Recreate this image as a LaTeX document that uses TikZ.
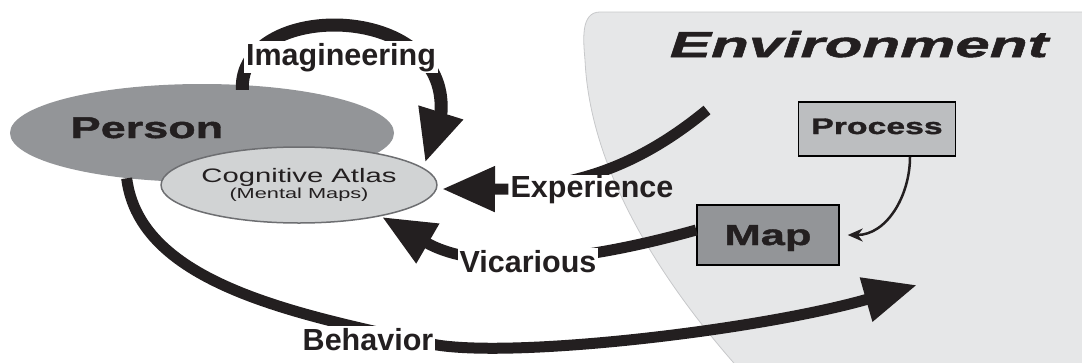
\documentclass[tikz,border=0pt]{standalone}
\usepackage{fontspec}
\setmainfont{Liberation Sans}
\newfontfamily\widefont[FakeStretch=1.5,BoldFeatures={FakeBold=1.5}]{Liberation Sans}
\newfontfamily\envfont[FakeStretch=1.72,BoldItalicFeatures={FakeBold=1.5}]{Liberation Sans}
\usetikzlibrary{arrows.meta,positioning,shapes.geometric}
\definecolor{ink}{HTML}{231F20}
\definecolor{envgray}{HTML}{E6E7E8}
\definecolor{envedge}{HTML}{C7C8CA}
\definecolor{persongray}{HTML}{939598}
\definecolor{atlasgray}{HTML}{D1D3D4}
\definecolor{atlasedge}{HTML}{6D6E71}
\definecolor{processgray}{HTML}{BCBEC0}
\tikzset{
  bigline/.style={line width=11pt,ink},
  bigarrow/.style={bigline,-{Triangle[length=53pt,width=43pt]}},
  thinarrow/.style={line width=2.5pt,ink,-{Stealth[length=15pt,width=13pt]}},
  lbl/.style={font=\fontsize{30.5}{32}\selectfont\bfseries,text=ink,anchor=base,inner sep=2pt},
  gbox/.style={draw=black,line width=1.5pt,inner sep=0pt,text=ink}
}
\begin{document}
\begin{tikzpicture}[x=1pt,y=-1pt]
\useasboundingbox (0,0) rectangle (1082,362);
% environment
\draw[envedge,fill=envgray,line width=0.8pt] (1090,12) -- (600,12) to[out=180,in=95] (585,60)
  .. controls (590,170) and (660,280) .. (740,370) -- (1090,370) -- cycle;
\node[anchor=base,text=ink,inner sep=0pt] (envtext) at (859,57)
  {\envfont\bfseries\itshape\fontsize{36}{38}\selectfont Environment};
% person and atlas
\node[ellipse,fill=persongray,minimum width=384pt,minimum height=98pt,inner sep=0pt] (person) at (202,133) {};
\node[anchor=base,text=ink,inner sep=0pt] (persontext) at (147,138)
  {\widefont\bfseries\fontsize{30}{30}\selectfont Person};
\coordinate (imagtip) at (425,163);
\draw[bigarrow,line width=13pt] ([yshift=-5pt]person.50) .. controls (238,0) and (448,0) .. (441,112) -- (imagtip);
\node[ellipse,draw=atlasedge,line width=1.5pt,fill=atlasgray,minimum width=272pt,minimum height=76pt,
  inner sep=0pt,align=center,text=ink] (atlas) at (299,185)
  {\widefont\fontsize{19.5}{20}\selectfont Cognitive Atlas\\[1pt]\widefont\fontsize{14.5}{15}\selectfont (Mental Maps)};
\node[lbl,fill=white] (imaglabel) at (341,65) {Imagineering};
% boxes in the environment
\node[gbox,fill=processgray,minimum width=157pt,text height=32pt,text depth=22pt] (process) at (877,129)
  {\widefont\bfseries\fontsize{22.5}{23}\selectfont Process};
\node[gbox,fill=persongray,minimum width=142pt,text height=40pt,text depth=20pt] (map) at (768,235)
  {\widefont\bfseries\fontsize{29}{30}\selectfont Map};
\draw[thinarrow] ([xshift=33pt]process.south) to[out=-90,in=0] ([xshift=8pt]map.east);
% experience
\node[lbl] (explabel) at (592,197) {Experience};
\coordinate (expstart) at (707,110);
\coordinate (exptip) at (442,189);
\begin{scope}
\clip (0,0) rectangle (1082,174);
\draw[bigline] (expstart) .. controls (640,165) and (580,185) .. (explabel.west);
\end{scope}
\draw[bigarrow] (explabel.west) -- (exptip);
% vicarious
\coordinate (victip) at (382,217);
\draw[bigarrow] ([yshift=5pt]map.west) .. controls (560,268) and (470,268) .. (victip);
\node[lbl,fill=white] (viclabel) at (528,272) {Vicarious};
% behavior
\coordinate (behtip) at (917,285);
\draw[bigarrow] (person.211) .. controls (140,285) and (300,315) .. (437,345)
  .. controls (520,358) and (760,330) .. (behtip);
\node[lbl,fill=white] (behlabel) at (368,350) {Behavior};
\end{tikzpicture}
\end{document}
